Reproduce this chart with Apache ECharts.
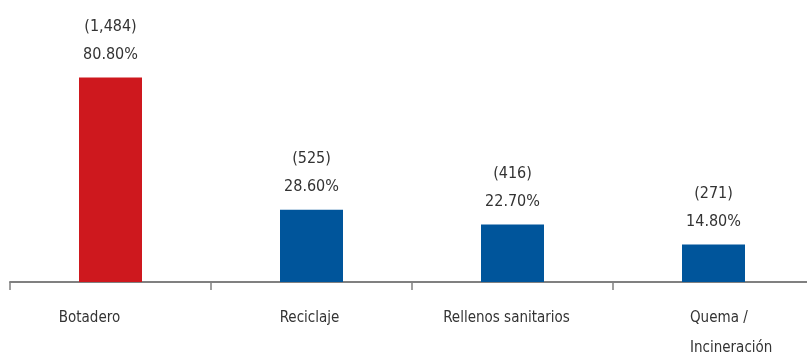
<!DOCTYPE html>
<html>
<head>
<meta charset="utf-8">
<script src="https://cdn.jsdelivr.net/npm/echarts@6/dist/echarts.min.js"></script>
<style>
html,body{margin:0;padding:0;background:#fff;}
#c{width:807px;height:357px;}
</style>
</head>
<body>
<div id="c"></div>
<script>
var categories = ['Botadero', 'Reciclaje', 'Rellenos sanitarios', 'Quema /\nIncineración'];
var counts = ['(1,484)', '(525)', '(416)', '(271)'];
var percents = [80.8, 28.6, 22.7, 14.8];
var barColors = ['#CE181E', '#00559B', '#00559B', '#00559B'];

var FONT = "'Noto Sans Condensed', 'Liberation Sans Narrow', 'DejaVu Sans Condensed', sans-serif";
var labelPads = [[0, 42, 0, 0], [0, 4, 0, 0], [0, 12, 0, 0], [0, 0, 0, 33]];
var TEXT = '#333333';

var chart = echarts.init(document.getElementById('c'));
chart.setOption({
  animation: false,
  backgroundColor: '#ffffff',
  grid: { left: 10, width: 804, top: 29, height: 253, containLabel: false, outerBoundsMode: 'none' },
  xAxis: {
    type: 'category',
    data: categories.map(function (c, i) {
      return { value: c, textStyle: { padding: labelPads[i] } };
    }),
    axisLine: { lineStyle: { color: '#808080', width: 2 } },
    axisTick: { show: true, length: 8, lineStyle: { color: '#808080', width: 1.5 } },
    axisLabel: {
      interval: 0,
      margin: 21,
      color: TEXT,
      fontSize: 15,
      fontFamily: FONT,
      lineHeight: 30,
      formatter: function (v, idx) {
        if (idx === 3) {
          return v.split('\n').map(function (s) { return '{q|' + s + '}'; }).join('\n');
        }
        return v;
      },
      rich: {
        q: { width: 80, align: 'left', fontSize: 15, fontFamily: FONT, color: TEXT, lineHeight: 30 }
      }
    }
  },
  yAxis: {
    type: 'value',
    min: 0,
    max: 100,
    show: false,
    splitLine: { show: false }
  },
  series: [{
    type: 'bar',
    barWidth: 63,
    data: percents.map(function (p, i) {
      return { value: p, itemStyle: { color: barColors[i] } };
    }),
    label: {
      show: true,
      position: 'top',
      distance: 9,
      color: TEXT,
      fontSize: 16,
      fontFamily: FONT,
      lineHeight: 28,
      formatter: function (p) {
        return counts[p.dataIndex] + '\n' + p.value.toFixed(2) + '%';
      }
    }
  }]
});
</script>
</body>
</html>
